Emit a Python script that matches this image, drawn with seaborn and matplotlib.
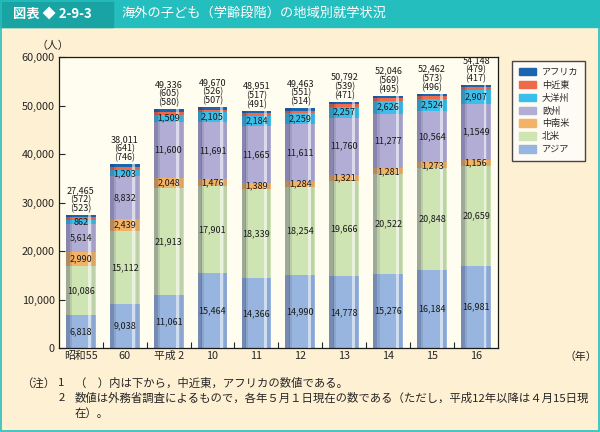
import numpy as np
import pandas as pd
import matplotlib
matplotlib.use("Agg")
import matplotlib.pyplot as plt
import matplotlib.patches as mpatches
import seaborn as sns

# -----------------------
# Data
# -----------------------
years = ["昭和55", "60", "平成 2", "10", "11", "12", "13", "14", "15", "16"]
asia = [6818, 9038, 11061, 15464, 14366, 14990, 14778, 15276, 16184, 16981]
north_america = [10086, 15112, 21913, 17901, 18339, 18254, 19666, 20522, 20848, 20659]
latin_america = [2990, 2439, 2048, 1476, 1389, 1284, 1321, 1281, 1273, 1156]
europe = [5614, 8832, 11600, 11691, 11665, 11611, 11760, 11277, 10564, 11549]
oceania = [862, 1203, 1509, 2105, 2184, 2259, 2257, 2626, 2524, 2907]
middle_east = [572, 641, 605, 526, 517, 551, 539, 569, 573, 479]
africa = [523, 746, 580, 507, 491, 514, 471, 495, 496, 417]
totals = [27465, 38011, 49336, 49670, 48951, 49463, 50792, 52046, 52462, 54148]

# the source prints the last europe value as "1,1549"
label_fix = {("欧州", 9): "1,1549"}

regions = ["アジア", "北米", "中南米", "欧州", "大洋州", "中近東", "アフリカ"]
series = [asia, north_america, latin_america, europe, oceania, middle_east, africa]
colors = ["#97b5de", "#cfe4b3", "#f2b366", "#b1add5", "#3bbfea", "#ee6a4a", "#1b64b0"]
labelled = ["アジア", "北米", "中南米", "欧州", "大洋州"]

# -----------------------
# Style
# -----------------------
sns.set_theme(style="white")
plt.rcParams["font.family"] = ["Noto Sans CJK JP", "DejaVu Sans"]

BG = "#fef0d2"
PLOT_BG = "#fffdf0"
TEAL = "#25bebe"
TEAL_DARK = "#1aa3a3"

fig = plt.figure(figsize=(6.0, 4.32), dpi=100, facecolor=BG)
ax = fig.add_axes([0.098, 0.194, 0.732, 0.674])
ax.set_facecolor(PLOT_BG)

# frame with cumulative heights for stacking
df = pd.DataFrame({"year": years})
for name, vals in zip(regions, series):
    df[name] = vals
cum = df[regions].cumsum(axis=1)

bar_w = 0.68
# draw from the tallest cumulative layer down so lower layers sit in front
for name, col in reversed(list(zip(regions, colors))):
    sns.barplot(x=df["year"], y=cum[name], color=col, width=bar_w,
                saturation=1, ax=ax, order=years, linewidth=0, zorder=2)

# cylinder-like shading on each bar
xpos = np.arange(len(years))
ax.bar(xpos - bar_w * 0.43, totals, width=bar_w * 0.14, color="#2a2a55",
       alpha=0.30, linewidth=0, zorder=3)
ax.bar(xpos - bar_w * 0.33, totals, width=bar_w * 0.08, color="#2a2a55",
       alpha=0.12, linewidth=0, zorder=3)
ax.bar(xpos + bar_w * 0.30, totals, width=bar_w * 0.10, color="white",
       alpha=0.55, linewidth=0, zorder=3)
ax.bar(xpos + bar_w * 0.42, totals, width=bar_w * 0.10, color="#2a2a55",
       alpha=0.10, linewidth=0, zorder=3)

# segment labels
for i in range(len(years)):
    base = 0
    for name, vals in zip(regions, series):
        v = vals[i]
        if name in labelled:
            txt = label_fix.get((name, i), f"{v:,}")
            ax.text(i, base + v / 2, txt, ha="center", va="center",
                    fontsize=6.5, color="#1a1a1a", zorder=4)
        base += v
    ax.text(i, totals[i] + 350, f"{totals[i]:,}\n({middle_east[i]})\n({africa[i]})",
            ha="center", va="bottom", fontsize=6.5, color="#1a1a1a",
            linespacing=1.0, zorder=4, clip_on=False)

# axes
ax.set_ylim(0, 60000)
ax.set_xlim(-0.5, len(years) - 0.5)
ax.set_yticks(range(0, 60001, 10000))
ax.set_yticklabels([f"{t:,}" for t in range(0, 60001, 10000)], fontsize=7.8)
ax.set_xticks(xpos)
ax.set_xticklabels(years, fontsize=7.8)
ax.set_xticks(np.arange(0.5, len(years) - 0.5, 1), minor=True)
ax.tick_params(axis="y", direction="in", length=4, width=0.8, left=True, pad=3)
ax.tick_params(axis="x", which="major", length=0, pad=2)
ax.tick_params(axis="x", which="minor", direction="in", length=4, width=0.8, bottom=True)
ax.set_xlabel("")
ax.set_ylabel("")
for s in ax.spines.values():
    s.set_color("#1a1a1a")
    s.set_linewidth(0.9)

fig.text(0.060, 0.895, "（人）", fontsize=7.8, ha="left", va="center")
fig.text(0.940, 0.173, "（年）", fontsize=7.8, ha="left", va="center")

# legend
handles = [mpatches.Patch(color=c, label=n) for n, c in zip(regions, colors)][::-1]
leg = fig.legend(handles=handles, loc="upper left", bbox_to_anchor=(0.846, 0.870),
                 fontsize=6.6, frameon=True, fancybox=False, edgecolor="#1a1a1a",
                 facecolor="white", handlelength=1.8, handleheight=0.9,
                 labelspacing=0.42, borderpad=0.75, handletextpad=0.7)
leg.get_frame().set_linewidth(1.0)

# header bar
fig.patches.append(mpatches.Rectangle((0, 1 - 27 / 432), 1, 27 / 432,
                                      transform=fig.transFigure, color=TEAL, zorder=0))
fig.patches.append(mpatches.Rectangle((0, 1 - 27 / 432), 113 / 600, 27 / 432,
                                      transform=fig.transFigure, color=TEAL_DARK, zorder=0))
fig.text(0.022, 1 - 13.5 / 432, "図表 ◆ 2-9-3", fontsize=9.5, color="white",
         fontweight="bold", ha="left", va="center")
fig.text(0.203, 1 - 13.5 / 432, "海外の子ども（学齢段階）の地域別就学状況", fontsize=9.5,
         color="white", ha="left", va="center")

# outer border
fig.patches.append(mpatches.Rectangle((0.001, 0.002), 0.998, 0.996, transform=fig.transFigure,
                                      fill=False, edgecolor=TEAL, linewidth=1.2, zorder=5))

# footnotes
fn = 8.2
fig.text(0.035, 1 - 383 / 432, "（注）", fontsize=fn, ha="left", va="center")
fig.text(0.097, 1 - 383 / 432, "1", fontsize=fn, ha="left", va="center")
fig.text(0.125, 1 - 383 / 432, "（　）内は下から，中近東，アフリカの数値である。",
         fontsize=fn, ha="left", va="center")
fig.text(0.097, 1 - 398 / 432, "2", fontsize=fn, ha="left", va="center")
fig.text(0.125, 1 - 398 / 432,
         "数値は外務省調査によるもので，各年５月１日現在の数である（ただし，平成12年以降は４月15日現",
         fontsize=fn, ha="left", va="center")
fig.text(0.125, 1 - 413 / 432, "在）。", fontsize=fn, ha="left", va="center")

fig.savefig("out.png", dpi=100, facecolor=BG)
